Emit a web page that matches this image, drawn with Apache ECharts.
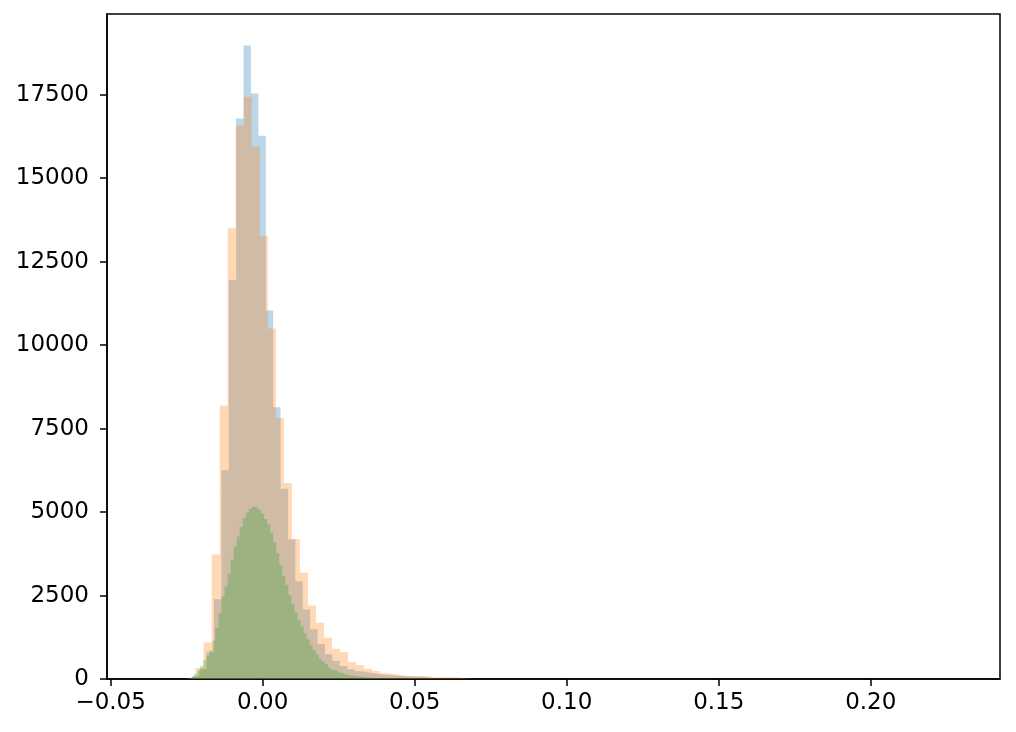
<!DOCTYPE html>
<html>
<head>
<meta charset="utf-8">
<script src="https://cdn.jsdelivr.net/npm/echarts@6/dist/echarts.min.js"></script>
<style>
html,body{margin:0;padding:0;background:#fff;}
#chart{width:1016px;height:732px;}
</style>
</head>
<body>
<div id="chart"></div>
<script>
// ---- data (histogram bins: first edge, bin width, counts per bin) ----
const blueStart = -0.02576;
const blueWidth = 0.002434;
const blueCounts = [15, 80, 300, 800, 2390, 6250, 11960, 16790, 18980, 17540, 16270, 11040, 8140,
  5700, 4180, 2930, 2085, 1490, 1040, 740, 540, 390, 290, 230, 190, 160, 130, 110, 95, 85, 75, 65, 55, 10, 5];

const orangeStart = -0.027336;
const orangeWidth = 0.002638;
const orangeCounts = [10, 60, 330, 1090, 3730, 8190, 13500, 16570, 17440, 15940, 13280, 10500, 7815,
  5870, 4190, 3180, 2200, 1684, 1236, 907, 808, 508, 410, 308, 240, 170, 140, 100, 90, 85, 80, 55, 50, 50, 45, 10, 5];

const greenStart = -0.02454;
const greenWidth = 0.001;
const greenCounts = [40, 80, 160, 250, 390, 560, 700, 850, 1150, 1530, 1970, 2470, 2770, 3150, 3570, 3970,
  4270, 4550, 4820, 4980, 5100, 5160, 5140, 5070, 4960, 4790, 4630, 4380, 4100, 3770, 3410, 3090, 2820,
  2510, 2250, 1990, 1770, 1580, 1370, 1190, 1020, 870, 740, 600, 520, 440, 340, 280, 240, 200, 170, 140,
  120, 105, 95, 85, 75, 65, 55, 45, 35, 28, 22, 18, 14, 10, 8, 6, 4];

const xTicks = [-0.05, 0.00, 0.05, 0.10, 0.15, 0.20];
const yTicks = [0, 2500, 5000, 7500, 10000, 12500, 15000, 17500];
const xRange = [-0.0512, 0.2425];
const yRange = [0, 19920];

// ---- build step outlines ----
function histPoints(start, width, counts) {
  const pts = [[start, 0]];
  counts.forEach((c, i) => pts.push([start + i * width, c]));
  const end = start + counts.length * width;
  pts.push([end, counts[counts.length - 1]]);
  pts.push([end, 0]);
  return pts;
}

const font = 'DejaVu Sans';
const chart = echarts.init(document.getElementById('chart'), null, {renderer: 'canvas'});

function histSeries(name, start, width, counts, color, alpha) {
  return {
    name: name,
    type: 'line',
    step: 'end',
    data: histPoints(start, width, counts),
    symbol: 'none',
    silent: true,
    lineStyle: {width: 0, opacity: 0},
    areaStyle: {color: color, opacity: alpha}
  };
}

chart.setOption({
  animation: false,
  backgroundColor: '#fff',
  grid: {
    left: 107, right: 16, top: 14, bottom: 53,
    show: true, borderColor: '#000', borderWidth: 1.5, backgroundColor: 'transparent'
  },
  xAxis: {
    type: 'value',
    min: xRange[0], max: xRange[1],
    axisLine: {show: true, onZero: false, lineStyle: {color: '#000', width: 1.5}},
    axisTick: {show: true, customValues: xTicks, length: 7, lineStyle: {color: '#000', width: 1.5}},
    axisLabel: {
      customValues: xTicks, margin: 13, color: '#000', fontSize: 23, fontFamily: font,
      formatter: v => v.toFixed(2).replace('-', '\u2212')
    },
    splitLine: {show: false}
  },
  yAxis: {
    type: 'value',
    min: yRange[0], max: yRange[1],
    axisLine: {show: true, onZero: false, lineStyle: {color: '#000', width: 1.5}},
    axisTick: {show: true, customValues: yTicks, length: 7, lineStyle: {color: '#000', width: 1.5}},
    axisLabel: {
      customValues: yTicks, margin: 18, color: '#000', fontSize: 23, fontFamily: font,
      formatter: v => String(Math.round(v))
    },
    splitLine: {show: false}
  },
  series: [
    histSeries('blue', blueStart, blueWidth, blueCounts, '#1f77b4', 0.3),
    histSeries('orange', orangeStart, orangeWidth, orangeCounts, '#ff7f0e', 0.3),
    histSeries('green', greenStart, greenWidth, greenCounts, '#2ca02c', 0.3)
  ]
});
</script>
</body>
</html>
